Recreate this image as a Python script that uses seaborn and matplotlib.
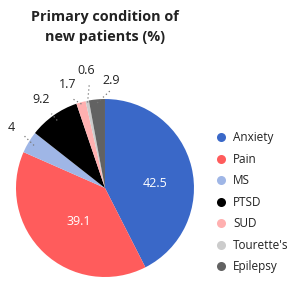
import numpy as np
import matplotlib
matplotlib.use("Agg")
import matplotlib.pyplot as plt
from matplotlib.lines import Line2D
import seaborn as sns

categories = ["Anxiety", "Pain", "MS", "PTSD", "SUD", "Tourette's", "Epilepsy"]
values = [42.5, 39.1, 4, 9.2, 1.7, 0.6, 2.9]
value_labels = ["42.5", "39.1", "4", "9.2", "1.7", "0.6", "2.9"]
colors = ["#3a68c8", "#ff5c5c", "#9fb6e6", "#000000", "#ffb0b0", "#cccccc", "#626262"]
title = "Primary condition of\nnew patients (%)"

sns.set_theme(style="white")
plt.rcParams["font.family"] = ["Open Sans", "DejaVu Sans"]

fig = plt.figure(figsize=(3.0, 2.9), dpi=100)
ax = fig.add_axes([0.0533, 0.0448, 0.5933, 0.6138])

wedges, _ = ax.pie(values, colors=colors, startangle=90, counterclock=False,
                   radius=1.0, wedgeprops=dict(linewidth=0))
ax.set_xlim(-1, 1)
ax.set_ylim(-1, 1)
ax.set_aspect("equal")

# label placement: (angle nudge in degrees, radius factor, inside?)
placement = [(-8, 0.56, True), (5, 0.48, True), (-2, 1.26, False), (0.5, 1.22, False),
             (4, 1.24, False), (-2.5, 1.34, False), (-8.5, 1.21, False)]
line_span = {2: (0.93, 1.09), 3: (0.93, 1.03), 4: (0.98, 1.06), 5: (0.98, 1.25), 6: (0.96, 1.1)}

for i, w in enumerate(wedges):
    mid = np.deg2rad((w.theta1 + w.theta2) / 2)
    nudge, rf, inside = placement[i]
    ang = mid + np.deg2rad(nudge)
    x, y = rf * np.cos(ang), rf * np.sin(ang)
    if inside:
        ax.text(x, y, value_labels[i], color="white", ha="center", va="center", fontsize=9)
    else:
        ax.text(x, y, value_labels[i], color="#222222", ha="center", va="center", fontsize=9)
        r0, r1 = line_span[i]
        if i == 5:
            la = np.deg2rad(99)
            ax.plot([r0 * np.cos(mid), r1 * np.cos(la) + 0.02], [r0 * np.sin(mid), r1 * np.sin(la) - 0.06],
                    color="#777777", lw=0.9, ls=(0, (1, 2.2)), clip_on=False)
        else:
            ax.plot([r0 * np.cos(mid), r1 * np.cos(ang)], [r0 * np.sin(mid), r1 * np.sin(ang)],
                    color="#777777", lw=0.9, ls=(0, (1, 2.2)), clip_on=False)

fig.text(0.35, 0.907, title, ha="center", va="center", fontsize=10.4, fontweight="bold",
         color="#222222", linespacing=1.55)

handles = [Line2D([0], [0], marker="o", ls="", markersize=6.5, markerfacecolor=c,
                  markeredgewidth=0) for c in colors]
fig.legend(handles, categories, loc="upper left", bbox_to_anchor=(0.697, 0.563),
           frameon=False, fontsize=8.5, handletextpad=0.45, labelspacing=0.72,
           handlelength=1.2, borderaxespad=0, labelcolor="#222222")

fig.savefig("out.png", dpi=100)
